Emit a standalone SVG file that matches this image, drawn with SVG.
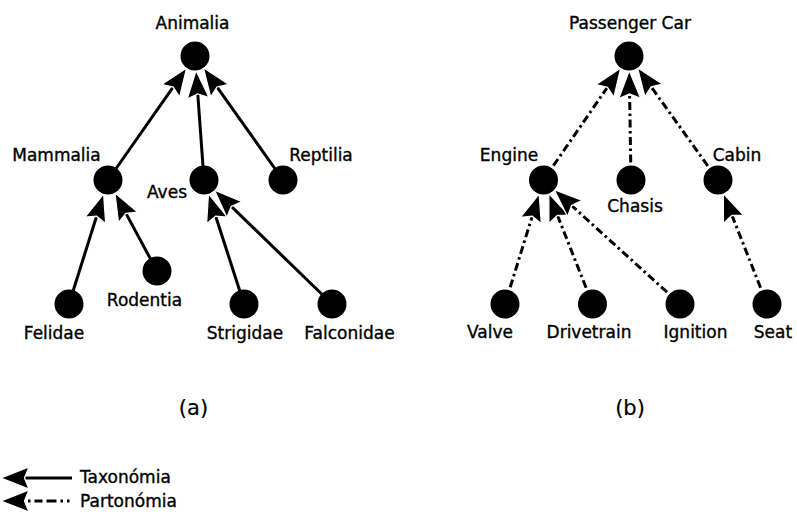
<svg xmlns="http://www.w3.org/2000/svg" width="797" height="522" viewBox="0 0 797 522">
  <style>
    text { font-family: "DejaVu Sans", "Liberation Sans", sans-serif; font-size: 17px; fill: #000; stroke: #000; stroke-width: 0.35; }
    .mid { text-anchor: middle; }
    .cap { font-size: 21px; stroke-width: 0.2; }
    .node { fill: #000; }
    .tax { stroke: #000; stroke-width: 3; fill: none; }
    .part { stroke: #000; stroke-width: 3; fill: none; stroke-dasharray: 8 3.5 2.5 3.5; }
    .head { fill: #000; stroke: #fff; stroke-width: 1.3; stroke-linejoin: miter; }
  </style>
  <defs>
    <!-- arrowhead, tip at the origin, pointing along +x -->
    <path id="ah" d="M0,0 L-28,-11 L-23.5,0 L-28,11 Z"/>
  </defs>

  <rect width="797" height="522" fill="#fff"/>

  <!-- connectors: each runs from the child toward the parent, head at the parent's rim -->
  <g id="connectors">
    <!-- (a) taxonomy -->
    <line class="tax" x1="108" y1="180" x2="179.78" y2="77.69"/>
    <line class="tax" x1="204" y1="180" x2="196.92" y2="82.43"/>
    <line class="tax" x1="283" y1="180" x2="210.33" y2="77.61"/>
    <line class="tax" x1="69" y1="304" x2="100.05" y2="205.28"/>
    <line class="tax" x1="157" y1="271" x2="120.56" y2="203.34"/>
    <line class="tax" x1="244" y1="304" x2="212.13" y2="205.22"/>
    <line class="tax" x1="332" y1="304" x2="223.04" y2="198.44"/>
    <!-- (b) partonomy -->
    <line class="part" x1="543.5" y1="180" x2="613.96" y2="77.82"/>
    <line class="part" x1="631" y1="180" x2="629.42" y2="82.5"/>
    <line class="part" x1="718" y1="180" x2="644.46" y2="77.53"/>
    <line class="part" x1="505" y1="304" x2="535.64" y2="205.31"/>
    <line class="part" x1="592.5" y1="304" x2="553.24" y2="204.65"/>
    <line class="part" x1="680" y1="304" x2="563.11" y2="197.82"/>
    <line class="part" x1="767" y1="304" x2="727.74" y2="204.65"/>
    <!-- heads -->
    <use href="#ah" class="head" transform="translate(186.67 67.87) rotate(-54.95)"/>
    <use href="#ah" class="head" transform="translate(196.05 70.46) rotate(-94.15)"/>
    <use href="#ah" class="head" transform="translate(203.39 67.82) rotate(-125.36)"/>
    <use href="#ah" class="head" transform="translate(103.65 193.83) rotate(-72.54)"/>
    <use href="#ah" class="head" transform="translate(114.87 192.77) rotate(-118.3)"/>
    <use href="#ah" class="head" transform="translate(208.45 193.8) rotate(-107.88)"/>
    <use href="#ah" class="head" transform="translate(214.42 190.09) rotate(-135.9)"/>
    <use href="#ah" class="head" transform="translate(620.77 67.94) rotate(-55.41)"/>
    <use href="#ah" class="head" transform="translate(629.23 70.5) rotate(-90.92)"/>
    <use href="#ah" class="head" transform="translate(637.46 67.78) rotate(-125.67)"/>
    <use href="#ah" class="head" transform="translate(539.2 193.85) rotate(-72.75)"/>
    <use href="#ah" class="head" transform="translate(548.83 193.49) rotate(-111.56)"/>
    <use href="#ah" class="head" transform="translate(554.23 189.75) rotate(-137.75)"/>
    <use href="#ah" class="head" transform="translate(723.33 193.49) rotate(-111.56)"/>
  </g>

  <!-- (a) Animalia taxonomy -->
  <g id="animalia"><circle class="node" cx="195" cy="56" r="14.5"/><text class="mid" x="192.5" y="29">Animalia</text></g>
  <g id="mammalia"><circle class="node" cx="108" cy="180" r="14.5"/><text class="mid" x="56.5" y="161">Mammalia</text></g>
  <g id="aves"><circle class="node" cx="204" cy="180" r="14.5"/><text class="mid" x="167" y="198">Aves</text></g>
  <g id="reptilia"><circle class="node" cx="283" cy="180" r="14.5"/><text class="mid" x="321" y="161">Reptilia</text></g>
  <g id="rodentia"><circle class="node" cx="157" cy="271" r="14.5"/><text class="mid" x="144.5" y="306">Rodentia</text></g>
  <g id="felidae"><circle class="node" cx="69" cy="304" r="14.5"/><text class="mid" x="54" y="339">Felidae</text></g>
  <g id="strigidae"><circle class="node" cx="244" cy="304" r="14.5"/><text class="mid" x="245" y="339">Strigidae</text></g>
  <g id="falconidae"><circle class="node" cx="332" cy="304" r="14.5"/><text class="mid" x="349.5" y="339">Falconidae</text></g>

  <!-- (b) Passenger car partonomy -->
  <g id="passenger-car"><circle class="node" cx="629" cy="56" r="14.5"/><text class="mid" x="630" y="29">Passenger Car</text></g>
  <g id="engine"><circle class="node" cx="543.5" cy="180" r="14.5"/><text class="mid" x="509" y="161">Engine</text></g>
  <g id="chasis"><circle class="node" cx="631" cy="180" r="14.5"/><text class="mid" x="635" y="212">Chasis</text></g>
  <g id="cabin"><circle class="node" cx="718" cy="180" r="14.5"/><text class="mid" x="737" y="161">Cabin</text></g>
  <g id="valve"><circle class="node" cx="505" cy="304" r="14.5"/><text class="mid" x="490" y="338">Valve</text></g>
  <g id="drivetrain"><circle class="node" cx="592.5" cy="304" r="14.5"/><text class="mid" x="589" y="338">Drivetrain</text></g>
  <g id="ignition"><circle class="node" cx="680" cy="304" r="14.5"/><text class="mid" x="695.5" y="338">Ignition</text></g>
  <g id="seat"><circle class="node" cx="767" cy="304" r="14.5"/><text class="mid" x="773" y="338">Seat</text></g>

  <!-- captions -->
  <text class="mid cap" x="193.5" y="415">(a)</text>
  <text class="mid cap" x="630" y="415">(b)</text>

  <!-- legend -->
  <g id="legend">
    <line class="tax" x1="72" y1="478" x2="12" y2="478"/>
    <use href="#ah" class="head" transform="translate(1 478) rotate(180)"/>
    <text x="80" y="483">Taxonómia</text>
    <line stroke="#000" stroke-width="3" stroke-dasharray="2.5 4 8 4 10 4 2.5 4" x1="28" y1="501" x2="72" y2="501"/>
    <use href="#ah" class="head" transform="translate(1 501) rotate(180)"/>
    <text x="80" y="507">Partonómia</text>
  </g>
</svg>
